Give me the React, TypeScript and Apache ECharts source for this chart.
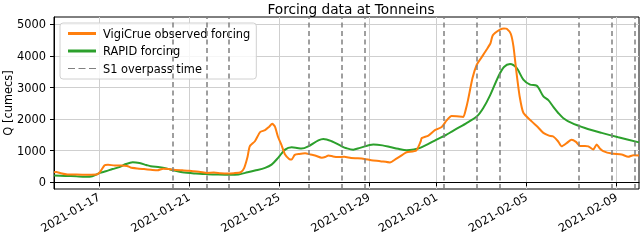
import React, { useEffect, useRef } from "react";
import * as echarts from "echarts";

const START = "2021-01-15";
const X_MAX_DAYS = 26;
const xTickLabels = ["2021-01-17", "2021-01-21", "2021-01-25", "2021-01-29", "2021-02-01", "2021-02-05", "2021-02-09"];
const yTicks = [0, 1000, 2000, 3000, 4000, 5000];
const Y_NAME = "Q [cumecs]";

// S1 overpass times (days since START)
const overpassDays = [5.29, 6.8, 7.78, 11.3, 12.81, 13.79, 17.3, 18.79, 19.82, 23.3, 24.81, 25.79];

// VigiCrue observed forcing
const vigiDays = [
  0.0, 0.1, 0.3, 0.6, 1.0, 1.5, 1.9, 2.05, 2.25, 2.4, 2.7, 3.0, 3.25, 3.4, 3.7, 4.0, 4.3, 4.6, 4.85, 5.1,
  5.4, 5.7, 6.0, 6.2, 6.5, 6.8, 7.1, 7.4, 7.7, 8.0, 8.3, 8.45, 8.6, 8.7, 8.93, 9.16, 9.38, 9.55, 9.7, 9.82,
  9.95, 10.1, 10.27, 10.45, 10.56, 10.7, 10.9, 11.16, 11.4, 11.6, 11.9, 12.05, 12.2, 12.4, 12.6, 12.9, 13.2, 13.5, 13.8, 14.1,
  14.5, 14.93, 15.2, 15.5, 15.67, 16.1, 16.3, 16.34, 16.64, 16.93, 17.23, 17.45, 17.67, 17.9, 18.19, 18.3, 18.4, 18.6, 18.79, 19.0,
  19.23, 19.4, 19.5, 19.82, 20.0, 20.12, 20.3, 20.42, 20.55, 20.7, 20.86, 21.23, 21.5, 21.75, 22.0, 22.19, 22.4, 22.56, 22.8, 23.0,
  23.2, 23.38, 23.6, 23.75, 23.97, 24.12, 24.25, 24.41, 24.79, 25.23, 25.52, 25.75, 26.0,
];
const vigiValues = [
  320, 330, 290, 250, 245, 240, 245, 330, 540, 560, 530, 535, 520, 470, 440, 420, 400, 380, 430, 420,
  390, 380, 370, 350, 330, 300, 310, 290, 280, 290, 320, 450, 800, 1140, 1300, 1590, 1650, 1750, 1850, 1760,
  1450, 1200, 880, 740, 720, 870, 900, 920, 880, 850, 780, 800, 850, 820, 800, 810, 770, 760, 740, 700,
  670, 630, 740, 880, 950, 1010, 1300, 1400, 1480, 1650, 1750, 1960, 2100, 2090, 2070, 2300, 2600, 3300, 3720, 3950,
  4200, 4400, 4650, 4830, 4870, 4860, 4700, 4300, 3500, 2700, 2200, 1930, 1750, 1565, 1480, 1450, 1300, 1140, 1250, 1350,
  1280, 1150, 1150, 1140, 1040, 1200, 1080, 990, 910, 880, 810, 860, 850,
];

// RAPID forcing
const rapidDays = [
  0.0, 0.5, 1.0, 1.4, 1.7, 2.04, 2.3, 2.6, 2.9, 3.2, 3.5, 3.8, 4.1, 4.3, 4.7, 5.0, 5.3, 5.7, 6.3, 6.8,
  7.3, 7.8, 8.2, 8.5, 8.93, 9.38, 9.67, 9.96, 10.27, 10.56, 10.8, 11.0, 11.3, 11.75, 11.97, 12.34, 12.79, 13.0, 13.3, 13.6,
  14.19, 14.6, 14.93, 15.3, 15.67, 16.0, 16.27, 16.6, 17.0, 17.4, 17.7, 18.3, 18.79, 19.08, 19.38, 19.75, 20.0, 20.27, 20.56, 20.86,
  21.16, 21.45, 21.75, 21.97, 22.2, 22.41, 22.64, 23.0, 23.6, 24.34, 25.08, 26.0,
];
const rapidValues = [
  215, 205, 190, 180, 195, 300, 350, 420, 480, 580, 635, 610, 550, 510, 480, 440, 385, 320, 280, 260,
  245, 237, 250, 300, 373, 457, 560, 775, 1035, 1110, 1090, 1068, 1140, 1330, 1375, 1300, 1140, 1080, 1035, 1090,
  1195, 1170, 1120, 1060, 1015, 1040, 1090, 1200, 1352, 1490, 1615, 1860, 2080, 2350, 2750, 3350, 3650, 3745, 3620, 3250,
  3090, 3060, 2720, 2600, 2380, 2195, 2030, 1880, 1720, 1565, 1425, 1265,
];

const DAY = 86400000;
const startMs = Date.parse(START + "T00:00:00Z");
const toDays = (s: string) => (Date.parse(s + "T00:00:00Z") - startMs) / DAY;
const xTickDays = xTickLabels.map(toDays);

const FONT = "DejaVu Sans";

export default function App() {
  const ref = useRef<HTMLDivElement>(null);
  useEffect(() => {
    if (!ref.current) return;
    const chart = echarts.init(ref.current, undefined, { renderer: "svg" });
    const labelFor = (v: number) => {
      const i = xTickDays.findIndex((d) => Math.abs(d - v) < 1e-6);
      return i >= 0 ? xTickLabels[i] : "";
    };
    chart.setOption({
      animation: false,
      title: {
        text: "Forcing data at Tonneins",
        left: 346,
        top: -3,
        textAlign: "center",
        textStyle: { fontFamily: FONT, fontSize: 13.7, fontWeight: "normal", color: "#000" },
      },
      grid: {
        left: 54,
        right: 1,
        top: 17,
        bottom: 51,
        show: true,
        borderColor: "#000",
        borderWidth: 1,
        containLabel: false,
        outerBoundsMode: "none",
      },
      graphic: [
        {
          type: "text",
          x: 8,
          y: 103,
          rotation: Math.PI / 2,
          style: {
            text: Y_NAME,
            fontFamily: FONT,
            fontSize: 11.4,
            fill: "#000",
            align: "center",
            verticalAlign: "middle",
          },
        },
      ],
      legend: {
        show: true,
        left: 60,
        top: 23,
        orient: "vertical",
        itemWidth: 28,
        itemHeight: 3,
        itemGap: 6.5,
        padding: [5, 6, 5, 8],
        backgroundColor: "rgba(255,255,255,0.8)",
        borderColor: "#d0d0d0",
        borderWidth: 1,
        borderRadius: 3,
        textStyle: { fontFamily: FONT, fontSize: 11.4, color: "#000", padding: [0, 0, 0, 2] },
        data: [
          { name: "VigiCrue observed forcing", icon: "rect", itemStyle: { color: "#ff7f0e" } },
          { name: "RAPID forcing", icon: "rect", itemStyle: { color: "#2ca02c" } },
          {
            name: "S1 overpass time",
            icon: "path://M0,0 L6,0 L6,1 L0,1 Z M9,0 L15,0 L15,1 L9,1 Z M18,0 L24,0 L24,1 L18,1 Z",
            itemStyle: { color: "#808080" },
          },
        ],
      },
      xAxis: {
        type: "value",
        min: 0,
        max: X_MAX_DAYS,
        axisLine: { show: true, lineStyle: { color: "#000", width: 1 } },
        axisTick: { show: true, length: 4, lineStyle: { color: "#000" }, customValues: xTickDays },
        axisLabel: {
          customValues: xTickDays,
          formatter: (v: number) => labelFor(v),
          rotate: 30,
          margin: 7,
          fontFamily: FONT,
          fontSize: 11.4,
          color: "#000",
        },
        splitLine: { show: true, lineStyle: { color: "#cfcfcf", width: 1 } },
      },
      yAxis: {
        type: "value",
        min: -210,
        max: 5230,
        axisLine: { show: true, lineStyle: { color: "#000", width: 1 } },
        axisTick: { show: true, length: 4, lineStyle: { color: "#000" }, customValues: yTicks },
        axisLabel: {
          customValues: yTicks,
          formatter: (v: number) => String(v),
          margin: 8,
          fontFamily: FONT,
          fontSize: 11.4,
          color: "#000",
        },
        splitLine: { show: true, lineStyle: { color: "#cfcfcf", width: 1 } },
      },
      series: [
        {
          name: "S1 overpass time",
          type: "line",
          data: [],
          symbol: "none",
          lineStyle: { color: "#808080" },
          itemStyle: { color: "#808080" },
          z: 1,
          markLine: {
            silent: true,
            symbol: ["none", "none"],
            label: { show: false },
            lineStyle: { color: "#808080", type: [5, 3.5], width: 1.5 },
            data: overpassDays.map((d) => ({ xAxis: d })),
          },
        },
        {
          name: "VigiCrue observed forcing",
          type: "line",
          data: vigiDays.map((d, i) => [d, vigiValues[i]]),
          symbol: "none",
          smooth: 0.2,
          lineStyle: { color: "#ff7f0e", width: 2 },
          itemStyle: { color: "#ff7f0e" },
          z: 3,
        },
        {
          name: "RAPID forcing",
          type: "line",
          data: rapidDays.map((d, i) => [d, rapidValues[i]]),
          symbol: "none",
          smooth: 0.3,
          lineStyle: { color: "#2ca02c", width: 2 },
          itemStyle: { color: "#2ca02c" },
          z: 2,
        },
      ],
    });
    return () => chart.dispose();
  }, []);
  return <div ref={ref} style={{ position: "fixed", left: 0, top: 0, width: 640, height: 240 }} />;
}
